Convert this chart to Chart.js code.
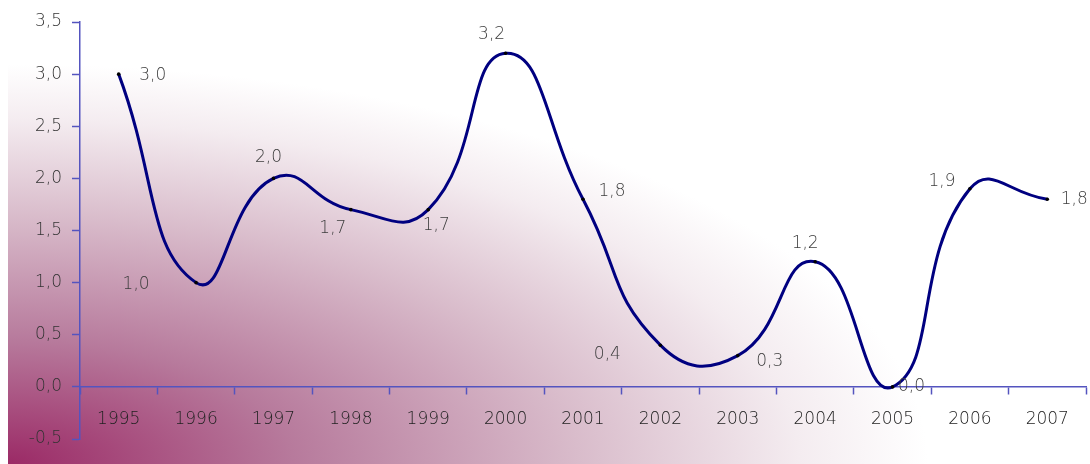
<!DOCTYPE html>
<html>
<head>
<meta charset="utf-8">
<script src="https://cdn.jsdelivr.net/npm/chart.js@4/dist/chart.umd.min.js"></script>
<style>
  html, body { margin: 0; padding: 0; background: #fff; }
  #wrap { width: 1090px; height: 464px; }
</style>
</head>
<body>
<div id="wrap"><canvas id="myLineChart"></canvas></div>
<script>
const years = ['1995', '1996', '1997', '1998', '1999', '2000', '2001', '2002', '2003', '2004', '2005', '2006', '2007']
const values = [3.0, 1.0, 2.0, 1.7, 1.7, 3.2, 1.8, 0.4, 0.3, 1.2, 0.0, 1.9, 1.8]
const yMin = -0.5
const yMax = 3.5
const yStep = 0.5

// where each value label sits relative to its point (px)
const labelOffsets = [
  [34, 1], [-60, 2], [-5, -21], [-18, 19], [8, 16], [-14, -19], [29, -8],
  [-53, 9], [32, 6], [-10, -18], [19, 0], [-28, -7], [27, 0]
]

const fmt = (v) => Number(v).toFixed(1).replace('.', ',')
const axisColor = '#5454bf'
const fontFamily = '"DejaVu Sans", sans-serif'

const background = {
  id: 'background',
  beforeDraw(chart) {
    const ctx = chart.ctx
    ctx.save()
    ctx.fillStyle = '#ffffff'
    ctx.fillRect(0, 0, chart.width, chart.height)
    // elliptical fade out of the bottom-left corner
    ctx.beginPath()
    ctx.rect(8, 65, chart.width - 8, chart.height - 65)
    ctx.clip()
    ctx.translate(8, 464)
    ctx.scale(920 / 400, 1)
    const g = ctx.createRadialGradient(0, 0, 0, 0, 0, 400)
    g.addColorStop(0, '#9b2a66')
    g.addColorStop(0.31, '#b77a9c')
    g.addColorStop(0.62, '#d9bccb')
    g.addColorStop(0.86, '#f4ecf0')
    g.addColorStop(1, '#ffffff')
    ctx.fillStyle = g
    ctx.fillRect(-10, -500, 500, 510)
    ctx.restore()
  },
}

const valueLabels = {
  id: 'valueLabels',
  afterDatasetsDraw(chart) {
    const ctx = chart.ctx
    const meta = chart.getDatasetMeta(0)
    ctx.save()
    ctx.font = '200 17px ' + fontFamily
    ctx.fillStyle = '#3c3c3c'
    ctx.textAlign = 'center'
    ctx.textBaseline = 'middle'
    meta.data.forEach((pt, i) => {
      const off = labelOffsets[i] || [0, -16]
      ctx.fillText(fmt(values[i]), pt.x + off[0], pt.y + off[1])
    })
    ctx.restore()
  },
}

new Chart(document.getElementById('myLineChart'), {
  type: 'line',
  data: {
    labels: years,
    datasets: [
      {
        data: values,
        borderColor: '#000080',
        borderWidth: 3,
        tension: 0.5,
        fill: false,
        clip: false,
        pointRadius: 1.8,
        pointBorderWidth: 0,
        pointBackgroundColor: '#000000',
      },
    ],
  },
  options: {
    responsive: true,
    maintainAspectRatio: false,
    animation: false,
    events: [],
    layout: { padding: { top: 22, bottom: 25, left: 0, right: 4 } },
    plugins: {
      legend: { display: false },
      tooltip: { enabled: false },
    },
    scales: {
      x: {
        type: 'category',
        position: { y: 0 },
        offset: true,
        grid: {
          offset: true,
          drawOnChartArea: false,
          tickLength: 7,
          tickWidth: 1.5,
          color: axisColor,
        },
        border: { color: axisColor, width: 1.5 },
        ticks: {
          padding: 16,
          color: '#222222',
          font: { family: fontFamily, size: 17, weight: 200 },
          maxRotation: 0,
        },
      },
      y: {
        min: yMin,
        max: yMax,
        afterFit(scale) { scale.width = 80 },
        grid: {
          drawOnChartArea: false,
          tickLength: 8,
          tickWidth: 1.5,
          color: axisColor,
        },
        border: { color: axisColor, width: 1.5 },
        ticks: {
          stepSize: yStep,
          padding: 10,
          color: '#333333',
          font: { family: fontFamily, size: 17, weight: 200 },
          callback: (v) => fmt(v),
        },
      },
    },
  },
  plugins: [background, valueLabels],
})
</script>
</body>
</html>
